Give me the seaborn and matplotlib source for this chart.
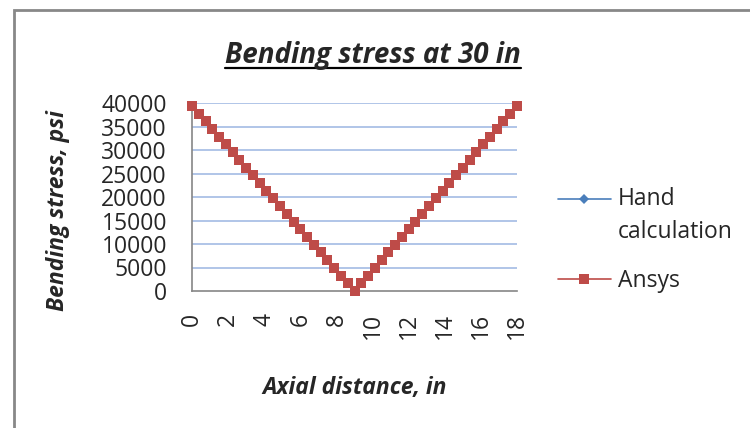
import matplotlib
matplotlib.use("Agg")
import numpy as np
import matplotlib.pyplot as plt
import seaborn as sns
import pandas as pd
from matplotlib.lines import Line2D
from matplotlib.patches import Rectangle
from matplotlib.legend_handler import HandlerLine2D

# --- data ---
axial_in = [0, 0.375, 0.75, 1.125, 1.5, 1.875, 2.25, 2.625, 3, 3.375, 3.75, 4.125,
            4.5, 4.875, 5.25, 5.625, 6, 6.375, 6.75, 7.125, 7.5, 7.875, 8.25, 8.625,
            9, 9.375, 9.75, 10.125, 10.5, 10.875, 11.25, 11.625, 12, 12.375, 12.75,
            13.125, 13.5, 13.875, 14.25, 14.625, 15, 15.375, 15.75, 16.125, 16.5,
            16.875, 17.25, 17.625, 18]
hand_calc = [39400, 37760, 36120, 34480, 32830, 31190, 29550, 27910, 26270, 24630,
             22980, 21340, 19700, 18060, 16420, 14780, 13130, 11490, 9850, 8210,
             6570, 4930, 3280, 1640, 0, 1640, 3280, 4930, 6570, 8210, 9850, 11490,
             13130, 14780, 16420, 18060, 19700, 21340, 22980, 24630, 26270, 27910,
             29550, 31190, 32830, 34480, 36120, 37760, 39400]
ansys = [39400, 37760, 36120, 34480, 32830, 31190, 29550, 27910, 26270, 24630,
         22980, 21340, 19700, 18060, 16420, 14780, 13130, 11490, 9850, 8210,
         6570, 4930, 3280, 1640, 0, 1640, 3280, 4930, 6570, 8210, 9850, 11490,
         13130, 14780, 16420, 18060, 19700, 21340, 22980, 24630, 26270, 27910,
         29550, 31190, 32830, 34480, 36120, 37760, 39400]
x_ticks = [0, 2, 4, 6, 8, 10, 12, 14, 16, 18]
y_ticks = [0, 5000, 10000, 15000, 20000, 25000, 30000, 35000, 40000]

df = pd.DataFrame({"x": axial_in, "hand": hand_calc, "ansys": ansys})

sns.set_style("white")
plt.rcParams['font.family'] = ['Open Sans', 'DejaVu Sans']


class RaisedHandler(HandlerLine2D):
    # puts the legend symbol next to the first line of a two-line label
    def __init__(self, shift, **kw):
        super().__init__(**kw)
        self.shift = shift

    def create_artists(self, *args, **kwargs):
        arts = super().create_artists(*args, **kwargs)
        for a in arts:
            a.set_ydata(np.asarray(a.get_ydata()) + self.shift)
        return arts


fig = plt.figure(figsize=(7.5, 4.28), dpi=100)
ax = fig.add_axes([192 / 750, 1 - 291 / 428, 325 / 750, 188 / 428])

grid_c = "#aac0e6"
for yv in y_ticks[1:]:
    ax.axhline(yv, color=grid_c, lw=1.3, zorder=0)

sns.lineplot(data=df, x="x", y="hand", ax=ax, color="#4a7ebb", marker="D",
             markersize=5, markeredgewidth=0, lw=1.2, label="Hand\ncalculation",
             clip_on=False, zorder=3)
sns.lineplot(data=df, x="x", y="ansys", ax=ax, color="#be4b48", marker="s",
             markersize=6.5, markeredgewidth=0, lw=1.2, label="Ansys",
             clip_on=False, zorder=4)

ax.set_xlim(0, 18)
ax.set_ylim(0, 40000)
ax.set_xticks(x_ticks)
ax.set_yticks(y_ticks)
ax.set_xticklabels([str(v) for v in x_ticks], rotation=90, fontsize=16.5)
ax.set_yticklabels([str(v) for v in y_ticks], fontsize=16.5)
ax.tick_params(axis="x", length=0, pad=16)
ax.tick_params(axis="y", length=0, pad=18)

for s in ["top", "right"]:
    ax.spines[s].set_visible(False)
for s in ["left", "bottom"]:
    ax.spines[s].set_color("#868686")
    ax.spines[s].set_linewidth(1.2)

ax.set_xlabel("Axial distance, in", fontsize=16.5, fontweight="bold",
              fontstyle="italic")
ax.xaxis.set_label_coords(0.5, (291 - 376) / 188)
ax.set_ylabel("Bending stress, psi", fontsize=16.5, fontweight="bold",
              fontstyle="italic")
ax.yaxis.set_label_coords((70 - 192) / 325, (291 - 211) / 188)

handles, labels = ax.get_legend_handles_labels()
leg = ax.legend(handles, labels, loc="upper left",
                bbox_to_anchor=(558 / 750, 1 - 187 / 428),
                bbox_transform=fig.transFigure, frameon=False, fontsize=16.5,
                handlelength=2.3, handletextpad=0.3, labelspacing=1.1,
                borderaxespad=0, borderpad=0,
                handler_map={handles[0]: RaisedHandler(12.5)})
leg.get_texts()[0].set_linespacing(1.5)

# title with underline
title = fig.text(373 / 750, 1 - 63 / 428, "Bending stress at 30 in", fontsize=20,
                 fontweight="bold", fontstyle="italic", ha="center", va="baseline")
fig.canvas.draw()
bb = title.get_window_extent(fig.canvas.get_renderer())
uy = 1 - 67.5 / 428
fig.add_artist(Line2D([bb.x0 / fig.bbox.width, bb.x1 / fig.bbox.width], [uy, uy],
                      transform=fig.transFigure, color="black", lw=1.6))

# chart frame
fig.add_artist(Rectangle((14 / 750, -0.05), 1.0, 1 - 10 / 428 + 0.05,
                         transform=fig.transFigure, fill=False,
                         edgecolor="#888888", lw=2))

fig.savefig("out.png", dpi=100)
